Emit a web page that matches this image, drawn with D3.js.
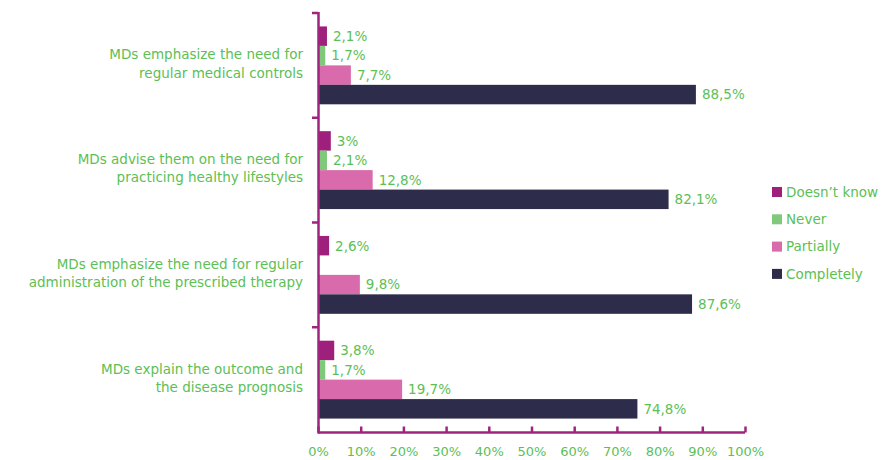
<!DOCTYPE html>
<html>
<head>
<meta charset="utf-8">
<script src="https://cdn.jsdelivr.net/npm/d3@7/dist/d3.min.js"></script>
<style>
  body { margin: 0; background: #fff; }
  svg text { font-family: "DejaVu Sans", sans-serif; fill: #5cc055; }
</style>
</head>
<body>
<svg id="chart" width="886" height="460"></svg>
<script>
// Survey statements (top to bottom), each split into two display lines
const categories = [
  ["MDs emphasize the need for", "regular medical controls"],
  ["MDs advise them on the need for", "practicing healthy lifestyles"],
  ["MDs emphasize the need for regular", "administration of the prescribed therapy"],
  ["MDs explain the outcome and", "the disease prognosis"]
];
const seriesNames = ["Doesn’t know", "Never", "Partially", "Completely"];
const doesntKnow = [2.1, 3, 2.6, 3.8];
const never      = [1.7, 2.1, null, 1.7];
const partially  = [7.7, 12.8, 9.8, 19.7];
const completely = [88.5, 82.1, 87.6, 74.8];
const tickValues = [0, 10, 20, 30, 40, 50, 60, 70, 80, 90, 100];
const colors = ["#9e1f7c", "#7ec97a", "#d96aab", "#2d2c4a"];

const series = [doesntKnow, never, partially, completely];
const fmt = v => String(v).replace(".", ",") + "%";

const svg = d3.select("#chart");
const x = d3.scaleLinear().domain([0, 100]).range([318, 745]);
const y = d3.scaleBand().domain(d3.range(categories.length)).range([13, 432]);
const inner = d3.scaleBand().domain(d3.range(series.length))
  .range([0, y.bandwidth()]).paddingOuter(0.69).paddingInner(0);

// Bars and value labels
categories.forEach((c, ci) => {
  const g = svg.append("g").attr("transform", `translate(0,${y(ci)})`);
  series.forEach((s, si) => {
    const v = s[ci];
    if (v == null) return;
    g.append("rect")
      .attr("x", x(0)).attr("y", inner(si))
      .attr("width", x(v) - x(0)).attr("height", inner.bandwidth())
      .attr("fill", colors[si]);
    g.append("text")
      .attr("x", x(v) + 6).attr("y", inner(si) + inner.bandwidth() / 2)
      .attr("dy", "0.36em").attr("font-size", 13.5)
      .text(fmt(v));
  });
  // Category label
  const t = svg.append("text")
    .attr("text-anchor", "end").attr("font-size", 13.5)
    .attr("x", 303).attr("y", y(ci) + y.bandwidth() / 2 - 2);
  c.forEach((line, li) => {
    t.append("tspan").attr("x", 303).attr("dy", li === 0 ? "-0.3em" : "1.35em").text(line);
  });
});

// Category axis (left) with boundary ticks
const axisColor = "#a0247e";
svg.append("line").attr("x1", 318.5).attr("x2", 318.5).attr("y1", 12).attr("y2", 433.5)
  .attr("stroke", axisColor).attr("stroke-width", 2.5);
y.domain().forEach(i => {
  svg.append("line").attr("x1", 312).attr("x2", 318).attr("y1", y(i)).attr("y2", y(i))
    .attr("stroke", axisColor).attr("stroke-width", 2.5);
});

// Value axis (bottom)
const xAxis = svg.append("g").attr("transform", "translate(0,432.5)")
  .call(d3.axisBottom(x).tickValues(tickValues).tickSize(6).tickFormat(d => d + "%"));
xAxis.select(".domain").attr("stroke", axisColor).attr("stroke-width", 2.5)
  .attr("d", `M${x(0)},0H${x(100)}`);
xAxis.selectAll(".tick line").attr("stroke", axisColor).attr("stroke-width", 2.5)
  .attr("y1", -6).attr("y2", 0);
xAxis.selectAll(".tick text").attr("font-size", 13).attr("y", 14)
  .style("font-family", "'DejaVu Sans', sans-serif").attr("fill", "#5cc055");

// Legend
const legend = svg.append("g");
seriesNames.forEach((n, i) => {
  const ly = 192 + i * 27.3;
  legend.append("rect").attr("x", 772).attr("y", ly - 5).attr("width", 10).attr("height", 10)
    .attr("fill", colors[i]);
  legend.append("text").attr("x", 786).attr("y", ly).attr("dy", "0.36em")
    .attr("font-size", 13.5).text(n);
});
</script>
</body>
</html>
